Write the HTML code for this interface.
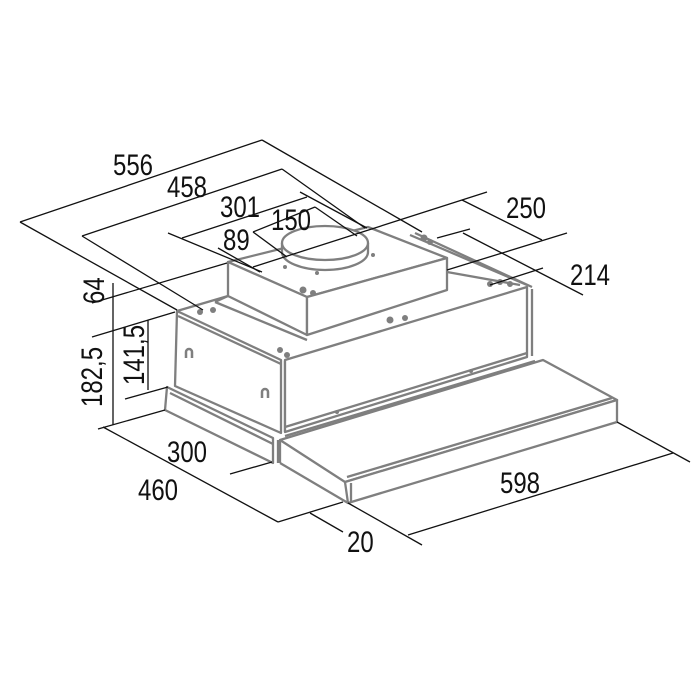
<!DOCTYPE html>
<html><head><meta charset="utf-8"><style>html,body{margin:0;padding:0;background:#fff}svg{display:block}</style></head>
<body>
<svg width="700" height="700" viewBox="0 0 700 700" xmlns="http://www.w3.org/2000/svg">
<rect width="700" height="700" fill="#fff"/>
<!-- gray drawing -->
<g fill="none" stroke="#7f7f7f" stroke-width="2.3" stroke-linejoin="round">
  <!-- body left face -->
  <polygon points="177,311 281,360 281,433 175,386" fill="#fff"/>
  <line x1="178" y1="316" x2="281" y2="364"/>
  <line x1="285" y1="361" x2="285" y2="432"/>
  <!-- body front face -->
  <polygon points="285,360 527,287 527,357 285,432" fill="#fff"/>
  <line x1="532" y1="289" x2="532" y2="356"/>
  <line x1="285" y1="427" x2="527" y2="353"/>
  <!-- top back edges -->
  <line x1="177" y1="311" x2="228" y2="296"/>
  <line x1="410" y1="235" x2="527" y2="285"/>
  <line x1="415" y1="233" x2="532" y2="287"/>
  <line x1="447" y1="272" x2="520" y2="285"/>
  <!-- motor box -->
  <polygon points="228,262 307,297 447,258 368,227" fill="#fff"/>
  <polygon points="228,262 307,297 307,335 228,296" fill="#fff"/>
  <polygon points="307,297 447,258 447,290 307,335" fill="#fff"/>
  <line x1="228" y1="296" x2="215" y2="302"/>
  <line x1="215" y1="302" x2="307" y2="340"/>
  <!-- duct -->
  <path d="M282,243 L282,252 A43,18 0 0 0 368,252 L368,243" fill="#fff"/>
  <ellipse cx="325" cy="243" rx="43" ry="17" fill="#fff"/>
  <!-- left tray -->
  <polygon points="167,387 273,438 273,463 165,410" fill="#fff"/>
  <line x1="170" y1="393" x2="273" y2="444"/>
  <line x1="278" y1="440" x2="278" y2="463"/>
  <!-- visor -->
  <polygon points="280,440 543,360 617,400 345,482" fill="#fff"/>
  <polygon points="345,482 617,400 617,422 348,503" fill="#fff"/>
  <line x1="280" y1="440" x2="280" y2="463"/>
  <line x1="280" y1="463" x2="348" y2="503"/>
  <line x1="351" y1="483" x2="351" y2="502"/>
  <line x1="347" y1="477" x2="612" y2="398"/>
  <line x1="285" y1="436" x2="535" y2="361"/>
</g>
<!-- small holes / details -->
<g fill="#7f7f7f">
  <circle cx="213" cy="310" r="3"/><circle cx="200" cy="312" r="3"/>
  <circle cx="280" cy="350" r="3"/><circle cx="287" cy="355" r="3"/>
  <circle cx="390" cy="320" r="3.5"/><circle cx="405" cy="318" r="3"/>
  <circle cx="303" cy="290" r="3.5"/><circle cx="313" cy="293" r="3"/>
  <circle cx="424" cy="238" r="3.5"/><circle cx="430" cy="242" r="3"/>
  <circle cx="490" cy="284" r="3"/><circle cx="500" cy="282" r="3"/><circle cx="510" cy="284" r="3"/>
  <circle cx="373" cy="255" r="2"/><circle cx="317" cy="273" r="2"/><circle cx="285" cy="267" r="2"/>
  <circle cx="471" cy="371" r="2"/><circle cx="337" cy="412" r="2"/>
</g>
<g fill="none" stroke="#7f7f7f" stroke-width="2.5">
  <path d="M186,358 v-6 a3,3 0 0 1 6,0 v6"/>
  <path d="M262,398 v-6 a3,3 0 0 1 6,0 v6"/>
</g>
<!-- dimension lines -->
<g stroke="#111" stroke-width="1.3" fill="none">
  <line x1="20" y1="222" x2="262" y2="140"/>
  <line x1="20" y1="222" x2="177" y2="310"/>
  <line x1="262" y1="140" x2="422" y2="232"/>
  <line x1="82" y1="236" x2="282" y2="169"/>
  <line x1="82" y1="236" x2="203" y2="310"/>
  <line x1="282" y1="169" x2="365" y2="228"/>
  <line x1="182" y1="238" x2="307" y2="197"/>
  <line x1="168" y1="233" x2="262" y2="272"/>
  <line x1="300" y1="192" x2="367" y2="228"/>
  <line x1="253" y1="232" x2="315" y2="207"/>
  <line x1="253" y1="232" x2="287" y2="257"/>
  <line x1="315" y1="207" x2="357" y2="236"/>
  <line x1="253" y1="267" x2="487" y2="192"/>
  <line x1="218" y1="248" x2="260" y2="272"/>
  <line x1="462" y1="200" x2="542" y2="240"/>
  <line x1="437" y1="238" x2="470" y2="229"/>
  <line x1="463" y1="233" x2="583" y2="295"/>
  <line x1="447" y1="270" x2="567" y2="233"/>
  <line x1="490" y1="285" x2="543" y2="268"/>
  <line x1="113" y1="283" x2="113" y2="425"/>
  <line x1="92" y1="303" x2="227" y2="263"/>
  <line x1="92" y1="337" x2="175" y2="312"/>
  <line x1="148" y1="320" x2="148" y2="390"/>
  <line x1="125" y1="399" x2="168" y2="387"/>
  <line x1="98" y1="429" x2="165" y2="410"/>
  <line x1="103" y1="427" x2="278" y2="522"/>
  <line x1="278" y1="522" x2="343" y2="502"/>
  <line x1="310" y1="513" x2="343" y2="532"/>
  <line x1="230" y1="474" x2="272" y2="462"/>
  <line x1="408" y1="535" x2="673" y2="453"/>
  <line x1="348" y1="503" x2="422" y2="545"/>
  <line x1="617" y1="422" x2="690" y2="462"/>
</g>
<!-- labels -->
<g font-family="Liberation Sans, sans-serif" font-size="30" fill="#111">
  <text transform="translate(113,175) scale(0.8,1)">556</text>
  <text transform="translate(167,197) scale(0.8,1)">458</text>
  <text transform="translate(220,217) scale(0.8,1)">301</text>
  <text transform="translate(271,230) scale(0.8,1)">150</text>
  <text transform="translate(223,250) scale(0.8,1)">89</text>
  <text transform="translate(506,218) scale(0.8,1)">250</text>
  <text transform="translate(570,285) scale(0.8,1)">214</text>
  <text transform="translate(104,304) rotate(-90) scale(0.8,1)">64</text>
  <text transform="translate(102,407) rotate(-90) scale(0.8,1)">182,5</text>
  <text transform="translate(144,385) rotate(-90) scale(0.8,1)">141,5</text>
  <text transform="translate(167,462) scale(0.8,1)">300</text>
  <text transform="translate(138,500) scale(0.8,1)">460</text>
  <text transform="translate(347,552) scale(0.8,1)">20</text>
  <text transform="translate(500,493) scale(0.8,1)">598</text>
</g>
</svg>
</body></html>
